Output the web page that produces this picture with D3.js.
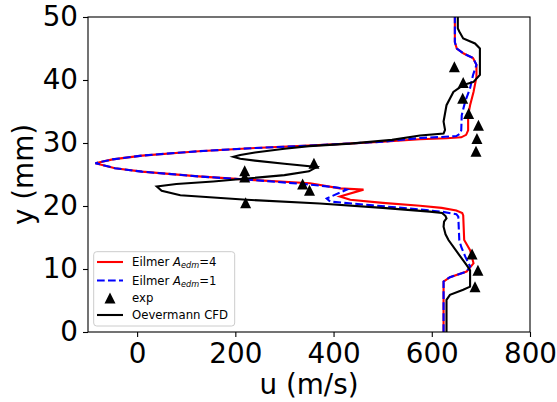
<!DOCTYPE html>
<html>
<head>
<meta charset="utf-8">
<script src="https://cdn.jsdelivr.net/npm/d3@7"></script>
<style>
  body { margin: 0; background: #fff; }
  text { font-family: "DejaVu Sans", sans-serif; }
</style>
</head>
<body>
<script>
// velocity profiles, u (m/s) against y (mm)

// Eilmer, A_edm = 4
var eilmer4Y = [0, 8.0, 8.7, 9.6, 10.9, 13.0, 14.6, 18.5, 18.9, 19.3, 19.7, 20.05, 20.5, 21.0, 21.5, 22.6, 22.8, 23.6, 24.1, 24.7, 25.45, 26.0, 26.8, 27.4, 28.0, 28.7, 29.2, 29.7, 30.2, 30.6, 30.75, 30.9, 31.3, 32.0, 34.4, 36.0, 38.1, 40.5, 42.4, 43.5, 44.2, 45.0, 46.0, 50];
var eilmer4U = [624, 624, 637, 671, 685, 678, 666, 664, 662, 650, 620, 576, 500, 434, 413, 461, 413, 352, 240, 125, 10, -45, -85, -50, 10, 125, 240, 380, 500, 576, 630, 660, 670, 674, 674, 678, 685, 691, 691, 684, 665, 651, 647, 647];

// Eilmer, A_edm = 1
var eilmer1Y = [0, 8.0, 8.7, 9.6, 10.4, 12.0, 13.5, 14.6, 18.3, 18.7, 19.1, 19.45, 20.1, 20.7, 21.2, 22.6, 22.9, 23.4, 24.1, 24.7, 25.45, 26.0, 26.8, 27.4, 28.0, 28.7, 29.2, 29.7, 30.2, 30.8, 30.95, 31.1, 31.5, 32.0, 34.4, 36.6, 38.7, 40.8, 42.4, 43.5, 44.2, 45.0, 46.0, 50];
var eilmer1U = [624, 624, 637, 671, 678, 668, 660, 656, 654, 650, 620, 576, 480, 393, 386, 427, 410, 352, 240, 125, 10, -45, -85, -50, 10, 125, 240, 380, 500, 576, 620, 650, 658, 660, 661, 668, 678, 684, 691, 684, 665, 651, 647, 647];

// Oevermann CFD
var cfdY = [0, 5.1, 5.9, 6.7, 7.2, 9.8, 10.6, 12.75, 14.6, 15.5, 16.7, 17.5, 18.05, 18.4, 18.9, 19.1, 19.7, 20.4, 21.0, 21.7, 22.4, 23.1, 23.5, 23.9, 24.4, 24.9, 25.5, 26.2, 26.7, 27.2, 27.5, 27.8, 28.1, 28.5, 29.1, 29.5, 29.9, 30.5, 31.2, 31.5, 32.1, 33.4, 36.0, 38.1, 39.2, 39.7, 40.8, 45.0, 45.8, 46.6, 47.7, 48.2, 50];
var cfdU = [630, 630, 637, 664, 678, 678, 671, 651, 634, 628, 624, 625, 630, 628, 621, 596, 500, 372, 223, 88, 50, 40, 80, 155, 230, 300, 350, 366, 300, 240, 210, 196, 210, 240, 300, 350, 434, 519, 576, 624, 627, 624, 630, 644, 664, 685, 698, 698, 688, 664, 656, 653, 653];

// experiment
var expY = [42.1, 39.6, 37.1, 34.7, 32.8, 30.7, 28.7, 26.8, 25.6, 24.6, 23.5, 22.5, 20.5, 12.4, 9.8, 7.2];
var expU = [646, 664, 663, 675, 695, 692, 690, 360, 219, 219, 337, 351, 221, 682, 694, 688];

var xTicks = [0, 200, 400, 600, 800];
var yTicks = [0, 10, 20, 30, 40, 50];

var width = 557,
    height = 402;

var svg = d3.select("body")
  .append("svg")
  .attr("width", width)
  .attr("height", height);

var x = d3.scaleLinear().domain([-100, 800]).range([88, 530]);
var y = d3.scaleLinear().domain([0, 50]).range([332, 17]);

svg.append("clipPath")
  .attr("id", "plot")
  .append("rect")
  .attr("x", 88).attr("y", 17)
  .attr("width", 442).attr("height", 315);

// profile lines
var line = d3.line()
  .x(function(d){ return x(d[0]); })
  .y(function(d){ return y(d[1]); });

function pairs(us, ys){
  return us.map(function(u, i){ return [u, ys[i]]; });
}

var plot = svg.append("g").attr("clip-path", "url(#plot)");

plot.append("path")
  .datum(pairs(eilmer4U, eilmer4Y))
  .attr("d", line)
  .attr("fill", "none")
  .attr("stroke", "#ff0000")
  .attr("stroke-width", 2.1);

plot.append("path")
  .datum(pairs(eilmer1U, eilmer1Y))
  .attr("d", line)
  .attr("fill", "none")
  .attr("stroke", "#0000ff")
  .attr("stroke-width", 2.1)
  .attr("stroke-dasharray", "7.7,3.3");

plot.append("path")
  .datum(pairs(cfdU, cfdY))
  .attr("d", line)
  .attr("fill", "none")
  .attr("stroke", "#000")
  .attr("stroke-width", 2.1);

// triangles, same shape as matplotlib "^"
var tri = "M0,-5.5L5.5,5.5L-5.5,5.5Z";
plot.selectAll(".exp")
  .data(pairs(expU, expY))
  .enter()
  .append("path")
  .attr("class", "exp")
  .attr("d", tri)
  .attr("transform", function(d){ return "translate(" + x(d[0]) + "," + y(d[1]) + ")"; })
  .attr("fill", "#000");

// axes
var xAxis = svg.append("g")
  .attr("transform", "translate(0,332)")
  .call(d3.axisBottom(x).tickValues(xTicks).tickSize(5).tickPadding(6));

var yAxis = svg.append("g")
  .attr("transform", "translate(88,0)")
  .call(d3.axisLeft(y).tickValues(yTicks).tickSize(5).tickPadding(5));

[xAxis, yAxis].forEach(function(a){
  a.select(".domain").remove();
  a.selectAll("line").attr("stroke", "#000").attr("stroke-width", 1.1);
  a.selectAll("text")
    .attr("fill", "#000")
    .style("font-size", "27.8px")
    .style("font-family", "DejaVu Sans");
});

// frame
svg.append("rect")
  .attr("x", 88).attr("y", 17)
  .attr("width", 442).attr("height", 315)
  .attr("fill", "none")
  .attr("stroke", "#000")
  .attr("stroke-width", 1.1);

// axis titles
svg.append("text")
  .attr("x", 309).attr("y", 394)
  .attr("text-anchor", "middle")
  .style("font-size", "27.8px")
  .text("u (m/s)");

svg.append("text")
  .attr("transform", "translate(33,174.5) rotate(-90)")
  .attr("text-anchor", "middle")
  .style("font-size", "27.8px")
  .text("y (mm)");

// legend
var legend = svg.append("g");

legend.append("rect")
  .attr("x", 93.7).attr("y", 251.7)
  .attr("width", 141).attr("height", 74.3)
  .attr("rx", 3)
  .attr("fill", "#fff")
  .attr("fill-opacity", 0.8)
  .attr("stroke", "#cccccc")
  .attr("stroke-width", 1);

var entryY = [262, 280.5, 298, 315];

legend.append("line")
  .attr("x1", 97).attr("x2", 123)
  .attr("y1", entryY[0]).attr("y2", entryY[0])
  .attr("stroke", "#ff0000").attr("stroke-width", 2.1);

legend.append("line")
  .attr("x1", 97).attr("x2", 123)
  .attr("y1", entryY[1]).attr("y2", entryY[1])
  .attr("stroke", "#0000ff").attr("stroke-width", 2.1)
  .attr("stroke-dasharray", "7.7,3.3");

legend.append("path")
  .attr("d", tri)
  .attr("transform", "translate(110," + entryY[2] + ")")
  .attr("fill", "#000");

legend.append("line")
  .attr("x1", 97).attr("x2", 123)
  .attr("y1", entryY[3]).attr("y2", entryY[3])
  .attr("stroke", "#000").attr("stroke-width", 2.1);

// "Eilmer A_edm=n" with math italics
function eilmerLabel(n, yy){
  var t = legend.append("text")
    .attr("x", 132).attr("y", yy + 4)
    .style("font-size", "11.7px");
  t.append("tspan").text("Eilmer ");
  t.append("tspan").style("font-style", "italic").text("A");
  t.append("tspan").style("font-style", "italic").style("font-size", "8.2px")
    .attr("dy", 2.2).text("edm");
  t.append("tspan").attr("dy", -2.2).text("=" + n);
}
eilmerLabel(4, entryY[0]);
eilmerLabel(1, entryY[1]);

legend.append("text")
  .attr("x", 132).attr("y", entryY[2] + 4)
  .style("font-size", "11.7px")
  .text("exp");

legend.append("text")
  .attr("x", 132).attr("y", entryY[3] + 4)
  .style("font-size", "11.7px")
  .text("Oevermann CFD");
</script>
</body>
</html>
